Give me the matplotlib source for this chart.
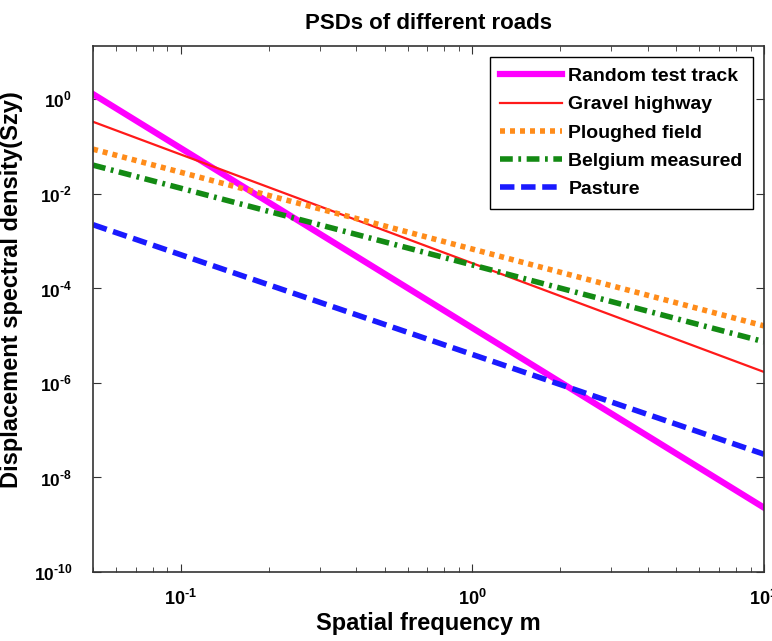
import numpy as np
import matplotlib
matplotlib.use("Agg")
import matplotlib.pyplot as plt

plt.rcParams['font.family'] = ['Liberation Sans', 'DejaVu Sans']
plt.rcParams['font.weight'] = 'bold'
plt.rcParams['mathtext.fontset'] = 'custom'
plt.rcParams['mathtext.rm'] = 'Liberation Sans:bold'
plt.rcParams['mathtext.bf'] = 'Liberation Sans:bold'

# spatial frequency at the two ends of the plot
freq = [0.05, 10.0]

# PSD values read at those two frequencies
random_track = [1.27, 2.3e-9]
gravel_highway = [0.33, 1.7e-6]
ploughed_field = [0.087, 1.6e-5]
belgium_measured = [0.040, 7.4e-6]
pasture = [0.0022, 3.1e-8]

x_ticks = [0.1, 1, 10]
x_tick_labels = ['$10^{\u20101}$', '$10^{0}$', '$10^{1}$']
y_ticks = [1e-10, 1e-8, 1e-6, 1e-4, 1e-2, 1]
y_tick_labels = ['$10^{\u201010}$', '$10^{\u20108}$', '$10^{\u20106}$',
                 '$10^{\u20104}$', '$10^{\u20102}$', '$10^{0}$']

fig = plt.figure(figsize=(7.72, 6.41), dpi=100)
ax = fig.add_axes([0.1205, 0.1076, 0.869, 0.8206])

ax.loglog(freq, random_track, color="#ff00ff", lw=4.5, label="Random test track")
ax.loglog(freq, gravel_highway, color="#ff1a1a", lw=1.6, label="Gravel highway")
ax.loglog(freq, ploughed_field, color="#ff8c1a", lw=4, ls=(0, (0.9, 0.9)), label="Ploughed field")
ax.loglog(freq, belgium_measured, color="#138a13", lw=4, ls=(0, (2.3, 1.0, 0.5, 1.0)), label="Belgium measured")
ax.loglog(freq, pasture, color="#1a1aff", lw=4, ls=(0, (2.6, 1.2)), label="Pasture")

ax.set_xlim(0.05, 10)
ax.set_ylim(1e-10, 10 ** 1.12)

ax.set_xticks(x_ticks)
ax.set_xticklabels(x_tick_labels, fontsize=13)
ax.set_yticks(y_ticks)
ax.set_yticklabels(y_tick_labels, fontsize=12.5)
ax.yaxis.set_minor_locator(matplotlib.ticker.NullLocator())
ax.xaxis.set_minor_locator(matplotlib.ticker.LogLocator(base=10, subs=np.arange(2, 10)))
ax.xaxis.set_minor_formatter(matplotlib.ticker.NullFormatter())

ax.tick_params(which='both', direction='in', top=True, right=True, color='#333333')
ax.tick_params(which='major', length=6)
ax.tick_params(axis='x', which='major', pad=12)
ax.tick_params(axis='y', which='major', pad=15)
ax.tick_params(which='minor', length=3.5)
for s in ax.spines.values():
    s.set_color('#333333')
    s.set_linewidth(1.2)

ax.set_title("PSDs of different roads", fontsize=16, fontweight='bold', pad=12)
ax.set_xlabel("Spatial frequency m", fontsize=17, fontweight='bold', labelpad=2)
ax.set_ylabel("Displacement spectral density(Szy)", fontsize=17, fontweight='bold')
ax.yaxis.set_label_coords(-0.104, 0.536)

leg = ax.legend(loc="upper right", fontsize=14, handlelength=3.2, handletextpad=0.3,
                labelspacing=0.55, borderpad=0.55, fancybox=False, framealpha=1,
                borderaxespad=0.55)
leg.get_frame().set_edgecolor('black')
leg.get_frame().set_linewidth(1.0)
for t in leg.get_texts():
    t.set_fontweight('bold')

fig.savefig("out.png", dpi=100)
